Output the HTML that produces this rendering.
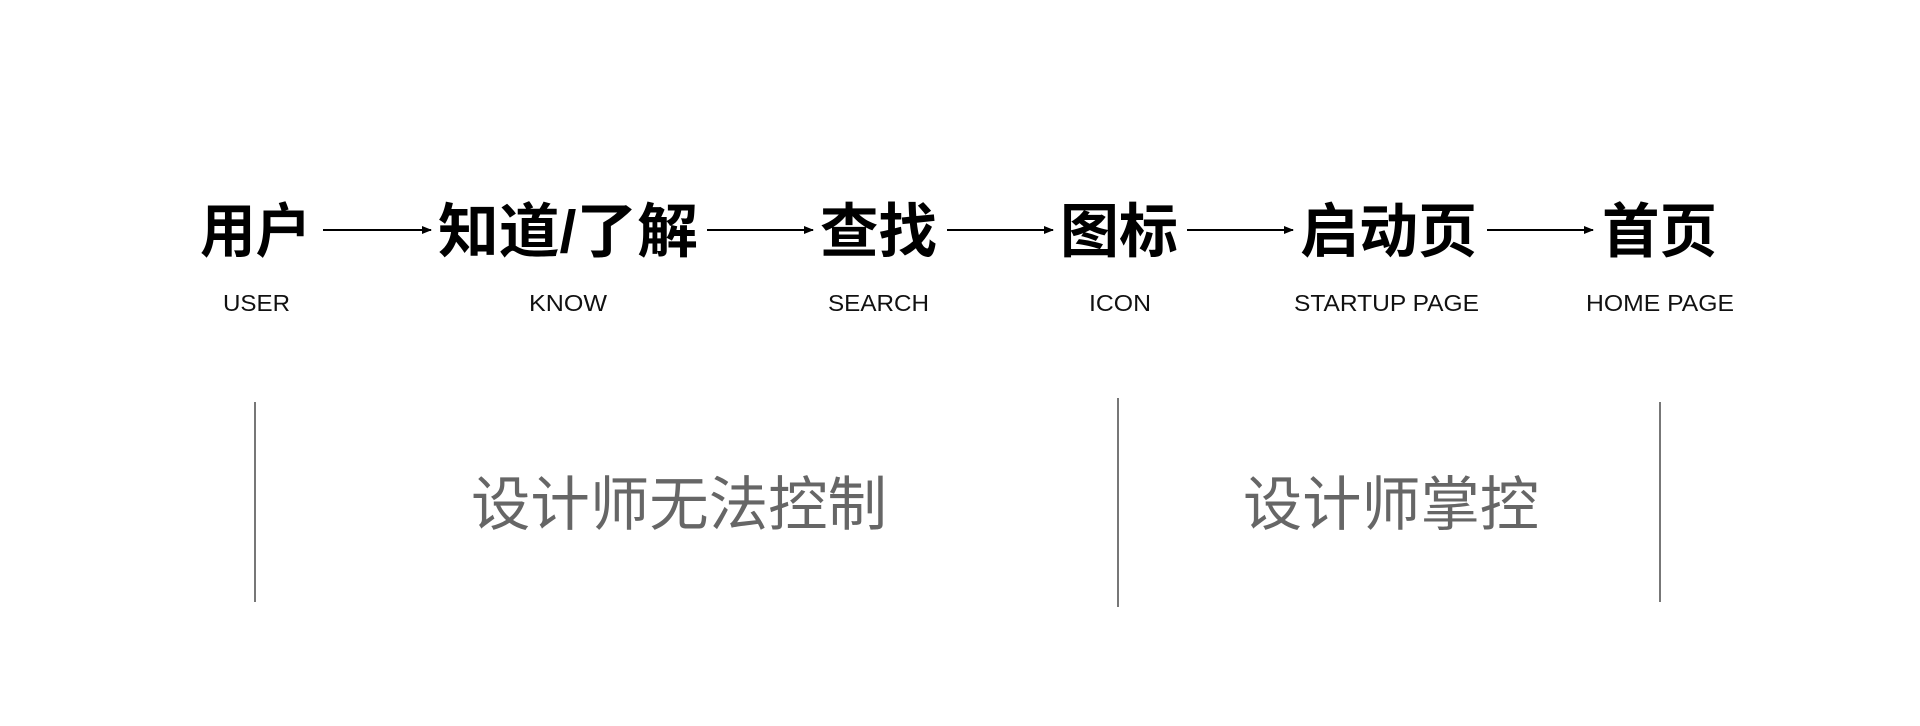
<!DOCTYPE html>
<html><head><meta charset="utf-8"><style>
html,body{margin:0;padding:0;background:#fff;width:1920px;height:726px;overflow:hidden}
svg{display:block}
.cn{font-family:"Liberation Sans","Noto Sans CJK SC",sans-serif;font-weight:bold;font-size:59px;fill:#000}
.en{font-family:"Liberation Sans","Noto Sans CJK SC",sans-serif;font-size:23px;fill:#111}
.g{font-family:"Liberation Sans","Noto Sans CJK SC",sans-serif;font-size:59px;fill:#666}
</style></head><body>
<svg width="1920" height="726" viewBox="0 0 1920 726">
<defs><marker id="a" markerWidth="10" markerHeight="8" refX="9" refY="4" orient="auto" markerUnits="userSpaceOnUse"><path d="M0,0 L10,4 L0,8 Z" fill="#000"/></marker></defs>
<text class="cn" x="200" y="252" textLength="111" lengthAdjust="spacingAndGlyphs">用户</text>
<text class="cn" x="438" y="252" textLength="260" lengthAdjust="spacingAndGlyphs">知道/了解</text>
<text class="cn" x="820" y="252" textLength="117" lengthAdjust="spacingAndGlyphs">查找</text>
<text class="cn" x="1060" y="252" textLength="118" lengthAdjust="spacingAndGlyphs">图标</text>
<text class="cn" x="1300" y="252" textLength="177" lengthAdjust="spacingAndGlyphs">启动页</text>
<text class="cn" x="1602" y="252" textLength="115" lengthAdjust="spacingAndGlyphs">首页</text>
<g stroke="#000" stroke-width="2" marker-end="url(#a)">
<line x1="323" y1="230" x2="431" y2="230"/>
<line x1="707" y1="230" x2="813" y2="230"/>
<line x1="947" y1="230" x2="1053" y2="230"/>
<line x1="1187" y1="230" x2="1293" y2="230"/>
<line x1="1487" y1="230" x2="1593" y2="230"/>
</g>
<text class="en" x="223" y="311" textLength="67" lengthAdjust="spacingAndGlyphs">USER</text>
<text class="en" x="529" y="311" textLength="78" lengthAdjust="spacingAndGlyphs">KNOW</text>
<text class="en" x="828" y="311" textLength="101" lengthAdjust="spacingAndGlyphs">SEARCH</text>
<text class="en" x="1089" y="311" textLength="62" lengthAdjust="spacingAndGlyphs">ICON</text>
<text class="en" x="1294" y="311" textLength="185" lengthAdjust="spacingAndGlyphs">STARTUP PAGE</text>
<text class="en" x="1586" y="311" textLength="148" lengthAdjust="spacingAndGlyphs">HOME PAGE</text>
<g stroke="#777" stroke-width="2">
<line x1="255" y1="402" x2="255" y2="602"/>
<line x1="1118" y1="398" x2="1118" y2="607"/>
<line x1="1660" y1="402" x2="1660" y2="602"/>
</g>
<text class="g" x="471" y="525" textLength="416" lengthAdjust="spacingAndGlyphs">设计师无法控制</text>
<text class="g" x="1243" y="525" textLength="296" lengthAdjust="spacingAndGlyphs">设计师掌控</text>
</svg>
</body></html>
